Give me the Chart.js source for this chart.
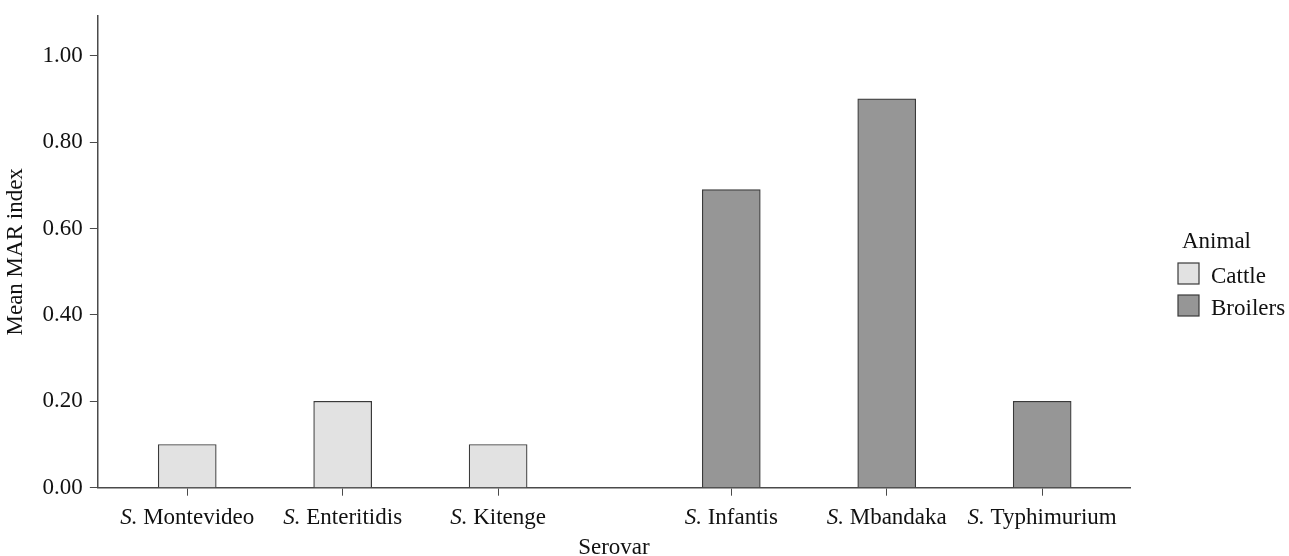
<!DOCTYPE html>
<html>
<head>
<meta charset="utf-8">
<script src="https://cdn.jsdelivr.net/npm/chart.js@4/dist/chart.umd.min.js"></script>
<style>
  body { margin: 0; background: #fff; }
  #wrap { width: 1289px; height: 556px; position: relative; }
</style>
</head>
<body>
<div id="wrap"><canvas id="chart"></canvas></div>
<script>
// serovars, split into the two animal groups (gap between groups)
const cattleSerovars = ['Montevideo', 'Enteritidis', 'Kitenge'];
const cattlePos = [0, 1, 2];
const cattleMAR = [0.10, 0.20, 0.10];

const broilerSerovars = ['Infantis', 'Mbandaka', 'Typhimurium'];
const broilerPos = [3.5, 4.5, 5.5];
const broilerMAR = [0.69, 0.90, 0.20];

const yTicks = [0, 0.2, 0.4, 0.6, 0.8, 1.0];

const serif = "'Liberation Serif', 'Times New Roman', serif";
const fs = 23;
const axisColor = '#4a4a4a';
const textColor = '#111';

const allPos = cattlePos.concat(broilerPos);
const allNames = cattleSerovars.concat(broilerSerovars);

function nameAt(v) {
    const i = allPos.indexOf(v);
    return i >= 0 ? 'S. ' + allNames[i] : '';
}

// draws the tick labels again with an italic "S.", plus the legend on the right
const extras = {
    id: 'extras',
    afterDraw(chart) {
        const ctx = chart.ctx;
        const xs = chart.scales.x;
        const y = xs.top + 36;
        ctx.save();
        ctx.fillStyle = textColor;
        ctx.textBaseline = 'alphabetic';
        ctx.textAlign = 'left';
        allPos.forEach((p, i) => {
            const cx = xs.getPixelForValue(p);
            ctx.font = 'italic ' + fs + 'px ' + serif;
            const a = 'S.';
            const wa = ctx.measureText(a).width;
            ctx.font = fs + 'px ' + serif;
            const b = ' ' + allNames[i];
            const wb = ctx.measureText(b).width;
            const x0 = cx - (wa + wb) / 2;
            ctx.font = 'italic ' + fs + 'px ' + serif;
            ctx.fillText(a, x0, y);
            ctx.font = fs + 'px ' + serif;
            ctx.fillText(b, x0 + wa, y);
        });

        // legend
        const lx = chart.chartArea.right + 48;
        let ly = 248;
        ctx.font = fs + 'px ' + serif;
        ctx.fillText('Animal', lx + 4, ly);
        chart.data.datasets.forEach((ds) => {
            ly += 32;
            ctx.fillStyle = ds.backgroundColor;
            ctx.fillRect(lx, ly - 17, 21, 21);
            ctx.strokeStyle = ds.borderColor;
            ctx.lineWidth = 1.2;
            ctx.strokeRect(lx, ly - 17, 21, 21);
            ctx.fillStyle = textColor;
            ctx.fillText(ds.label, lx + 33, ly + 3);
        });
        ctx.restore();
    }
};

new Chart(document.getElementById('chart'), {
    type: 'bar',
    data: {
        datasets: [{
            label: 'Cattle',
            data: cattlePos.map((p, i) => ({ x: p, y: cattleMAR[i] })),
            backgroundColor: '#e2e2e2',
            borderColor: '#3a3a3a',
            borderWidth: 1.2,
            barThickness: 58,
            grouped: false
        }, {
            label: 'Broilers',
            data: broilerPos.map((p, i) => ({ x: p, y: broilerMAR[i] })),
            backgroundColor: '#969696',
            borderColor: '#3a3a3a',
            borderWidth: 1.2,
            barThickness: 58,
            grouped: false
        }]
    },
    options: {
        responsive: true,
        maintainAspectRatio: false,
        animation: false,
        layout: { padding: { top: 16, right: 159, left: 2, bottom: 0 } },
        plugins: {
            tooltip: { enabled: false },
            legend: { display: false }
        },
        scales: {
            x: {
                type: 'linear',
                offset: false,
                min: -0.575,
                max: 6.065,
                afterBuildTicks: (s) => { s.ticks = allPos.map(v => ({ value: v })); },
                grid: { offset: false, drawOnChartArea: false, drawTicks: true, tickLength: 8, color: axisColor },
                border: { color: axisColor, width: 1.5 },
                ticks: {
                    color: 'rgba(0,0,0,0)',
                    font: { family: serif, size: fs, lineHeight: 1.1 },
                    padding: 6,
                    maxRotation: 0,
                    autoSkip: false,
                    callback: (v) => nameAt(v)
                },
                title: {
                    display: true,
                    text: 'Serovar',
                    color: textColor,
                    font: { family: serif, size: fs, lineHeight: 1.0 },
                    padding: { top: 3, bottom: -3 }
                }
            },
            y: {
                min: 0,
                max: 1.092,
                afterBuildTicks: (s) => { s.ticks = yTicks.map(v => ({ value: v })); },
                grid: { drawOnChartArea: false, drawTicks: true, tickLength: 8, color: axisColor },
                border: { color: axisColor, width: 1.5 },
                ticks: {
                    color: textColor,
                    font: { family: serif, size: fs, lineHeight: 0.5 },
                    padding: 7,
                    callback: (v) => v.toFixed(2)
                },
                title: {
                    display: true,
                    text: 'Mean MAR index',
                    color: textColor,
                    font: { family: serif, size: fs },
                    padding: { top: 0, bottom: 6 }
                }
            }
        }
    },
    plugins: [extras]
});
</script>
</body>
</html>
